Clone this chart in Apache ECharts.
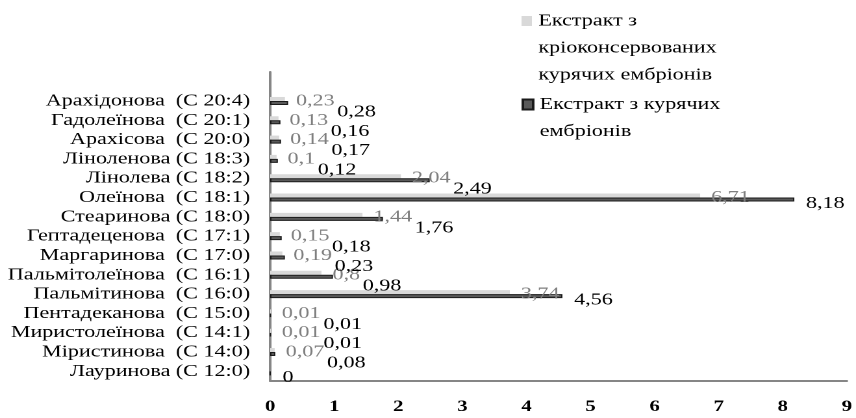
<!DOCTYPE html>
<html>
<head>
<meta charset="utf-8">
<script src="https://cdn.jsdelivr.net/npm/echarts@6/dist/echarts.min.js"></script>
<style>
html,body{margin:0;padding:0;background:#fff;overflow:hidden;}
/* The reference figure is stretched horizontally (~1.3x); reproduce that */
#chart{width:659px;height:418px;transform:scaleX(1.2989);transform-origin:0 0;}
</style>
</head>
<body>
<div id="chart"></div>
<script>
// Categories, bottom to top
const categories = [
  'Лауринова (С 12:0)',
  'Міристинова  (С 14:0)',
  'Миристолеїнова  (С 14:1)',
  'Пентадеканова  (С 15:0)',
  'Пальмітинова  (С 16:0)',
  'Пальмітолеїнова  (С 16:1)',
  'Маргаринова  (С 17:0)',
  'Гептадеценова  (С 17:1)',
  'Стеаринова (С 18:0)',
  'Олеїнова  (С 18:1)',
  'Лінолева (С 18:2)',
  'Ліноленова (С 18:3)',
  'Арахісова  (С 20:0)',
  'Гадолеїнова  (С 20:1)',
  'Арахідонова  (С 20:4)'
];
const seriesNames = [
  'Екстракт з\nкріоконсервованих\nкурячих ембріонів',
  'Екстракт з курячих\nембріонів'
];
const cryoValues  = [0, 0.07, 0.01, 0.01, 3.74, 0.8, 0.19, 0.15, 1.44, 6.71, 2.04, 0.1, 0.14, 0.13, 0.23];
const freshValues = [0, 0.08, 0.01, 0.01, 4.56, 0.98, 0.23, 0.18, 1.76, 8.18, 2.49, 0.12, 0.17, 0.16, 0.28];
const xMin = 0, xMax = 9, xStep = 1;

const FONT = '"Liberation Serif", "Times New Roman", serif';
const LABEL_SIZE = 17;
const LIGHT_DIST = 8.5;
const DARK_DIST = 9;
const fmt = v => String(v).replace('.', ',');

const chart = echarts.init(document.getElementById('chart'), null, {renderer: 'canvas', devicePixelRatio: 2});

const ctx = document.createElement('canvas').getContext('2d');
ctx.font = LABEL_SIZE + 'px ' + FONT;
const textW = s => ctx.measureText(s).width;

// Legend text: pad with blank lines above so the first line sits beside the icon
const legendFmt = name => '\n'.repeat(name.split('\n').length - 1) + name;
const legendText = {fontFamily: FONT, fontSize: 17, color: '#000', lineHeight: 27};

function buildOption(darkData) {
  return {
    animation: false,
    backgroundColor: '#fff',
    textStyle: {fontFamily: FONT},
    grid: {left: 208, right: 4.5, top: 72, bottom: 37, containLabel: false},
    legend: [
      {
        orient: 'vertical', left: 401.5, top: -46.5, padding: 0,
        itemWidth: 8, itemHeight: 10, selectedMode: false, icon: 'rect',
        data: [seriesNames[0]], formatter: legendFmt, textStyle: legendText
      },
      {
        orient: 'vertical', left: 401.5, top: 64, padding: 0,
        itemWidth: 8, itemHeight: 10, selectedMode: false, icon: 'rect',
        data: [seriesNames[1]], formatter: legendFmt, textStyle: legendText
      }
    ],
    xAxis: {
      type: 'value', min: xMin, max: xMax, interval: xStep,
      splitLine: {show: false},
      axisTick: {show: false},
      axisLine: {show: true, lineStyle: {color: '#868686', width: 2}},
      axisLabel: {fontFamily: FONT, fontSize: 16, fontWeight: 'bold', color: '#000', margin: 18}
    },
    yAxis: {
      type: 'category',
      data: categories.concat(['']),
      axisTick: {show: false},
      axisLine: {show: true, lineStyle: {color: '#868686', width: 2}},
      axisLabel: {fontFamily: FONT, fontSize: 17, color: '#000', margin: 15.5, interval: 0}
    },
    series: [
      {
        name: seriesNames[0], type: 'bar', data: cryoValues,
        barWidth: 4, barGap: '0%',
        itemStyle: {color: '#d9d9d9'},
        label: {
          show: true, position: 'right', distance: LIGHT_DIST, offset: [0, 2],
          fontFamily: FONT, fontSize: LABEL_SIZE, color: '#7f7f7f',
          formatter: p => p.value === 0 ? '' : fmt(p.value)
        }
      },
      {
        name: seriesNames[1], type: 'bar', data: darkData,
        barWidth: 4,
        itemStyle: {color: '#595959', borderColor: '#1a1a1a', borderWidth: 1},
        label: {
          show: true, position: 'right', distance: DARK_DIST,
          fontFamily: FONT, fontSize: LABEL_SIZE, color: '#000',
          formatter: p => fmt(p.value)
        }
      }
    ]
  };
}

chart.setOption(buildOption(freshValues.map(v => ({value: v, label: {offset: [0, 3]}}))));

// Shift dark labels clear of the light labels, using the chart's own x scale
const px = v => chart.convertToPixel({xAxisIndex: 0}, v);
const darkData = freshValues.map((v, i) => {
  const lv = cryoValues[i];
  const lightEnd = lv === 0 ? px(0) : px(lv) + LIGHT_DIST + textW(fmt(lv));
  const darkStart = px(v) + DARK_DIST;
  if (darkStart < lightEnd + 2) {
    return {value: v, label: {offset: [lightEnd + 2 - darkStart, 9]}};
  }
  return {value: v, label: {offset: [0, 4]}};
});
chart.setOption(buildOption(darkData));
</script>
</body>
</html>
